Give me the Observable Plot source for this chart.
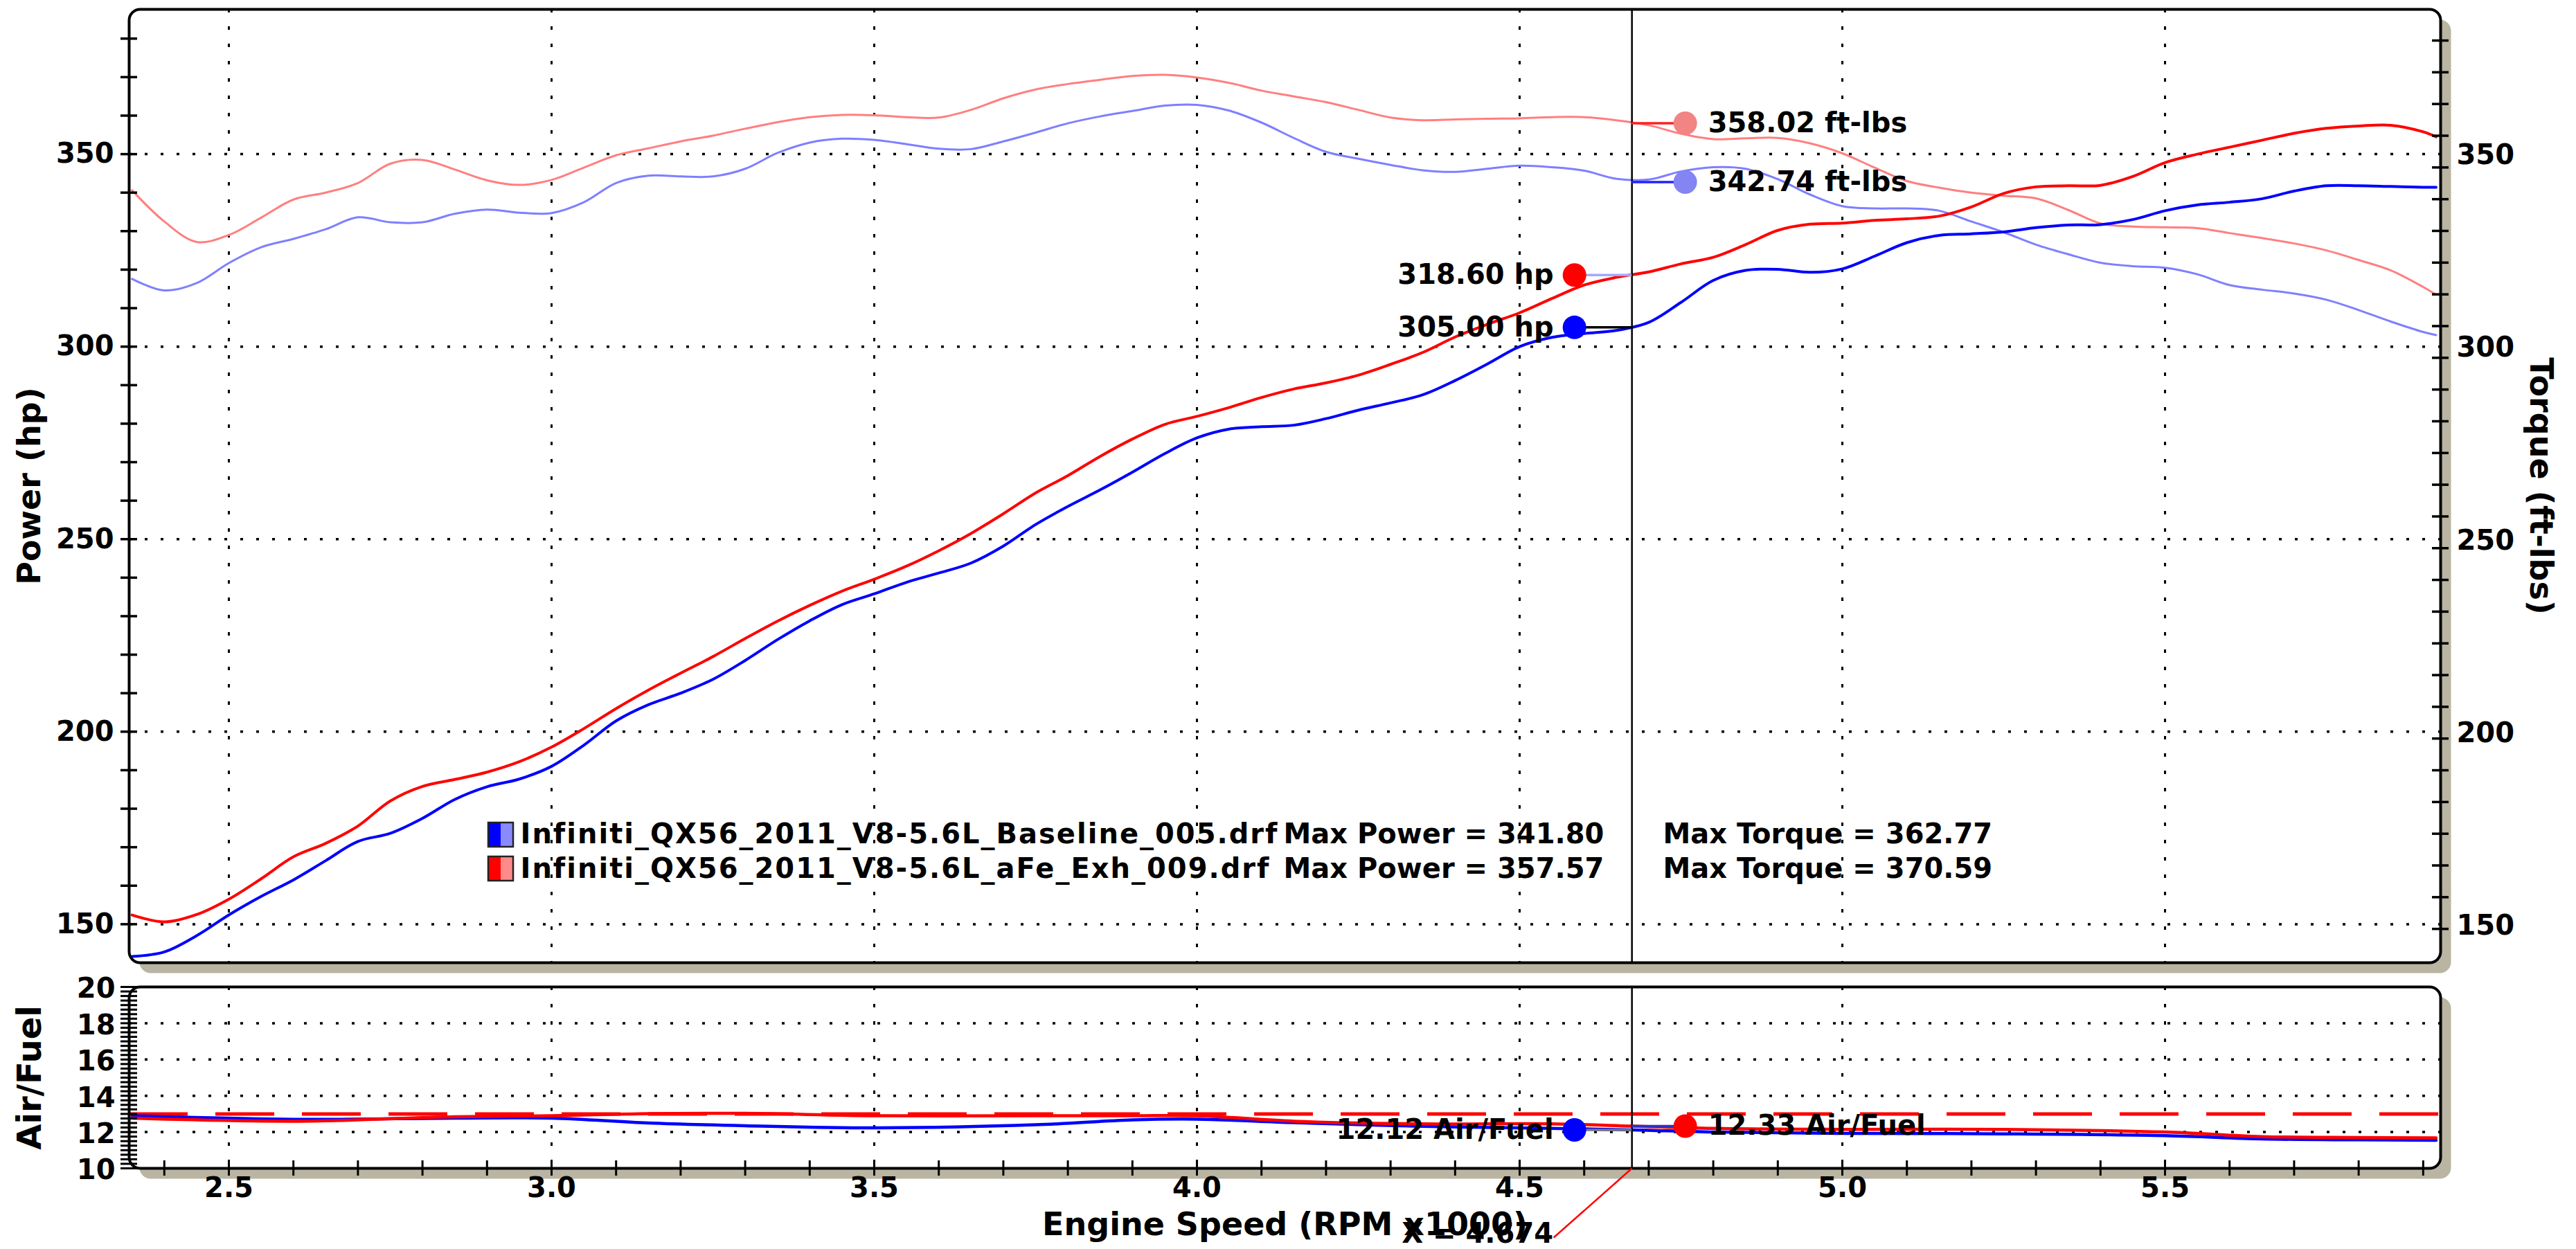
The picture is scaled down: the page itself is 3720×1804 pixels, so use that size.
<!DOCTYPE html>
<html>
<head>
<meta charset="utf-8">
<script src="https://cdn.jsdelivr.net/npm/d3@7"></script>
<script src="https://cdn.jsdelivr.net/npm/@observablehq/plot@0.6"></script>
<style>
  html, body { margin: 0; padding: 0; background: #ffffff; }
  #chart svg { display: block; }
</style>
</head>
<body>
<div id="chart"></div>
<script>
// ---------------- DATA ----------------
const rpm = [
  2.35, 2.40, 2.45, 2.50, 2.55, 2.60, 2.65, 2.70, 2.75, 2.80,
  2.85, 2.90, 2.95, 3.00, 3.05, 3.10, 3.15, 3.20, 3.25, 3.30,
  3.35, 3.40, 3.45, 3.50, 3.55, 3.60, 3.65, 3.70, 3.75, 3.80,
  3.85, 3.90, 3.95, 4.00, 4.05, 4.10, 4.15, 4.20, 4.25, 4.30,
  4.35, 4.40, 4.45, 4.50, 4.55, 4.60, 4.65, 4.70, 4.75, 4.80,
  4.85, 4.90, 4.95, 5.00, 5.05, 5.10, 5.15, 5.20, 5.25, 5.30,
  5.35, 5.40, 5.45, 5.50, 5.55, 5.60, 5.65, 5.70, 5.75, 5.80,
  5.85, 5.90, 5.92
];
const baselinePower = [
  141.6, 142.8, 147.0, 152.4, 157.2, 161.5, 166.5, 171.5, 173.6, 177.5,
  182.4, 185.7, 187.7, 191.0, 196.5, 202.8, 207.0, 210.0, 213.6, 218.5,
  223.9, 228.8, 233.0, 235.8, 238.8, 241.2, 243.8, 248.2, 253.8, 258.5,
  262.8, 267.4, 272.2, 276.3, 278.6, 279.2, 279.6, 281.3, 283.5, 285.4,
  287.5, 291.2, 295.5, 300.0, 302.4, 303.4, 304.2, 306.3, 311.5, 317.2,
  319.8, 320.1, 319.3, 320.2, 323.5, 327.0, 328.9, 329.3, 329.8, 330.9,
  331.6, 331.7, 333.0, 335.3, 336.8, 337.5, 338.4, 340.4, 341.8, 341.8,
  341.6, 341.4, 341.4
];
const aFePower = [
  152.4, 150.6, 152.5, 156.5, 161.8, 167.5, 171.0, 175.5, 182.0, 185.8,
  187.6, 189.5, 192.2, 196.0, 200.8, 206.0, 210.8, 215.2, 219.5, 224.2,
  228.7, 232.8, 236.5, 239.6, 243.0, 247.0, 251.5, 256.6, 262.0, 266.5,
  271.5, 276.0, 279.8, 281.9, 284.2, 286.8, 289.0, 290.6, 292.6, 295.4,
  298.5, 302.5, 305.8, 308.8, 312.5, 316.0, 318.0, 319.4, 321.5, 323.2,
  326.5, 330.2, 331.8, 332.1, 332.8, 333.2, 333.9, 336.3, 339.8, 341.5,
  341.8, 341.9, 344.2, 347.8, 350.0, 351.8, 353.6, 355.4, 356.7, 357.3,
  357.5, 355.8, 354.5
];
const baselineTorque = [
  317.6, 314.6, 316.5, 321.7, 325.8, 328.0, 330.5, 333.6, 332.3, 332.3,
  334.5, 335.6, 334.8, 334.7, 337.5, 342.5, 344.4, 344.2, 344.2, 346.2,
  350.3, 353.0, 354.0, 353.7, 352.6, 351.4, 351.3, 353.3, 355.6, 358.0,
  359.8, 361.2, 362.6, 362.8, 361.3, 358.2, 354.2, 350.6, 348.8, 347.2,
  345.8, 345.4, 346.2, 347.0, 346.6, 345.7, 343.6, 343.4, 345.5, 346.6,
  346.2, 343.5, 339.5, 336.5, 335.9, 335.9, 335.3, 332.5, 329.7, 326.5,
  324.0, 321.8, 320.9, 320.5, 318.8, 316.0, 314.8, 313.8, 312.2, 309.5,
  306.5, 303.8, 303.0
];
const aFeTorque = [
  340.6, 332.5, 327.2, 329.0, 333.5, 338.2, 340.0, 342.5, 347.5, 348.5,
  346.0, 343.2, 342.0, 343.3, 346.5, 349.7, 351.5, 353.3, 354.8, 356.6,
  358.3, 359.6, 360.2, 360.1, 359.6, 359.5, 361.5, 364.5, 366.8, 368.2,
  369.3, 370.3, 370.6, 369.9, 368.5, 366.5, 365.0, 363.5, 361.5, 359.5,
  358.8, 359.0, 359.2, 359.3, 359.6, 359.6, 358.8, 357.5, 355.3, 353.9,
  354.1, 354.2, 352.8, 350.2, 346.5, 343.0, 341.3, 340.0, 339.2, 338.5,
  335.5, 332.0, 331.2, 331.0, 330.8, 329.5, 328.2, 326.8, 325.0, 322.5,
  319.8, 315.5, 313.5
];
const afRpm = [2.35, 2.60, 2.85, 3.00, 3.15, 3.30, 3.50, 3.75, 3.90, 4.00, 4.15, 4.35, 4.55, 4.675, 4.80, 5.00, 5.25, 5.50, 5.65, 5.80, 5.92];
const baselineAF = [12.90, 12.70, 12.77, 12.77, 12.50, 12.35, 12.23, 12.40, 12.67, 12.71, 12.52, 12.32, 12.20, 12.12, 12.00, 11.93, 11.90, 11.80, 11.62, 11.57, 11.55];
const aFeAF = [12.77, 12.60, 12.84, 12.90, 13.02, 13.03, 12.90, 12.90, 12.90, 12.90, 12.60, 12.45, 12.45, 12.33, 12.20, 12.15, 12.15, 12.00, 11.75, 11.70, 11.68];
const targetAF = 13.0;

const runFiles = ["Infiniti_QX56_2011_V8-5.6L_Baseline_005.drf", "Infiniti_QX56_2011_V8-5.6L_aFe_Exh_009.drf"];
const runMaxPower = [341.80, 357.57];
const runMaxTorque = [362.77, 370.59];

const cursorRpm = 4.674;
const cursorHp = [318.60, 305.00];      // aFe, Baseline
const cursorTorque = [358.02, 342.74];  // aFe, Baseline
const cursorAF = [12.33, 12.12];        // aFe, Baseline

const xTickLabels = [2.5, 3.0, 3.5, 4.0, 4.5, 5.0, 5.5];
const powerTickLabels = [150, 200, 250, 300, 350];
const afTickLabels = [10, 12, 14, 16, 18, 20];
const afGrid = [12, 14, 16, 18];

// ---------------- LAYOUT / STYLE ----------------
const W = 3720, ML = 186, MR = 196;
const XD = [2.3455, 5.927];
const pxPerRpm = (W - ML - MR) / (XD[1] - XD[0]);
const H1 = 1410, MT1 = 13, MB1 = 20;
const H2 = 394, MT2 = 15, MB2 = 117;
const YD = [140, 387.6];
const AFD = [10, 20];
const pxPerAF = (H2 - MT2 - MB2) / (AFD[1] - AFD[0]);

const FONT = "font-family: 'DejaVu Sans', Verdana, sans-serif; font-weight: bold; background: transparent; overflow: visible;";
const SHADOW = "#b9b5a2";
const BLUE = "#0000ff", RED = "#ff0000", LBLUE = "#7f7fff", LRED = "#ff7f7f";
const runDark = [BLUE, RED], runLight = ["#8a8aff", "#ff8a8a"];

const toRows = (xs, ys) => xs.map((x, i) => ({rpm: x, v: ys[i]}));
const leftOff = -83 / pxPerRpm, rightOff = 77 / pxPerRpm;

function readout(value, side, dotFill, linkStroke, label) {
  const off = side === "left" ? leftOff : rightOff;
  const dotDx = side === "left" ? -83 : 77;
  return [
    Plot.ruleY([value], {y: d => d, x1: () => cursorRpm, x2: () => cursorRpm + off, stroke: linkStroke, strokeWidth: 3.5}),
    Plot.dot([value], {x: () => cursorRpm, y: d => d, dx: dotDx, r: 17, fill: dotFill, stroke: "none"}),
    Plot.text([value], {x: () => cursorRpm, y: d => d, dx: side === "left" ? -113 : 110,
      textAnchor: side === "left" ? "end" : "start", lineAnchor: "middle", text: label, fontSize: 40, fill: "black"})
  ];
}

const legendSwatches = (index, scales, values, dims) => {
  const g = d3.create("svg:g");
  runDark.forEach((c, i) => {
    const x = dims.marginLeft + 519, y = dims.marginTop + 1175 + 49 * i;
    g.append("rect").attr("x", x).attr("y", y).attr("width", 18).attr("height", 35).attr("fill", c);
    g.append("rect").attr("x", x + 18).attr("y", y).attr("width", 18).attr("height", 35).attr("fill", runLight[i]);
    g.append("rect").attr("x", x).attr("y", y).attr("width", 36).attr("height", 35)
      .attr("fill", "none").attr("stroke", "#222").attr("stroke-width", 2.5);
  });
  return g.node();
};

// ---------------- TOP PANEL ----------------
const topPlot = Plot.plot({
  width: W, height: H1, marginLeft: ML, marginRight: MR, marginTop: MT1, marginBottom: MB1,
  x: {domain: XD, axis: null},
  y: {domain: YD, axis: null},
  style: FONT,
  marks: [
    Plot.frame({fill: SHADOW, stroke: "none", rx: 16, dx: 15, dy: 15}),
    Plot.frame({fill: "white", stroke: "none", rx: 16}),
    Plot.ruleY(powerTickLabels, {y: d => d, stroke: "black", strokeWidth: 3.5, strokeDasharray: "4 19"}),
    Plot.ruleX(xTickLabels, {x: d => d, stroke: "black", strokeWidth: 3, strokeDasharray: "5 20"}),
    Plot.line(toRows(rpm, baselineTorque), {x: "rpm", y: "v", stroke: LBLUE, strokeWidth: 3, curve: "catmull-rom"}),
    Plot.line(toRows(rpm, aFeTorque), {x: "rpm", y: "v", stroke: LRED, strokeWidth: 3, curve: "catmull-rom"}),
    Plot.line(toRows(rpm, baselinePower), {x: "rpm", y: "v", stroke: BLUE, strokeWidth: 4, curve: "catmull-rom"}),
    Plot.line(toRows(rpm, aFePower), {x: "rpm", y: "v", stroke: RED, strokeWidth: 4, curve: "catmull-rom"}),
    Plot.ruleX([cursorRpm], {x: d => d, stroke: "black", strokeWidth: 2.5}),
    ...readout(cursorTorque[0], "right", "#f28484", "#ff2020", d => `${d.toFixed(2)} ft-lbs`),
    ...readout(cursorTorque[1], "right", "#8484f2", "#2020ff", d => `${d.toFixed(2)} ft-lbs`),
    ...readout(cursorHp[0], "left", RED, "#a0a8ff", d => `${d.toFixed(2)} hp`),
    ...readout(cursorHp[1], "left", BLUE, "black", d => `${d.toFixed(2)} hp`),
    legendSwatches,
    ...runFiles.map((f, i) => Plot.text([f], {text: d => d,
      frameAnchor: "top-left", dx: 565, dy: 1192 + 50 * i, textAnchor: "start", lineAnchor: "middle", fontSize: 40})),
    ...runFiles.map((f, i) => Plot.text([runMaxPower[i]], {text: d => `Max Power = ${d.toFixed(2)}`,
      frameAnchor: "top-left", dx: 1667, dy: 1192 + 50 * i, textAnchor: "start", lineAnchor: "middle", fontSize: 40})),
    ...runFiles.map((f, i) => Plot.text([runMaxTorque[i]], {text: d => `Max Torque = ${d.toFixed(2)}`,
      frameAnchor: "top-left", dx: 2215, dy: 1192 + 50 * i, textAnchor: "start", lineAnchor: "middle", fontSize: 40})),
    Plot.frame({stroke: "black", strokeWidth: 4, rx: 16}),
    // left ticks (every 10) and right ticks
    Plot.ruleY(d3.range(150, 381, 10), {y: d => d, x1: () => XD[0], x2: () => XD[0], insetLeft: -12, insetRight: -12, stroke: "black", strokeWidth: 3.5}),
    Plot.ruleY(d3.range(379.5, 141, -8.24), {y: d => d, x1: () => XD[1], x2: () => XD[1], insetLeft: -12, insetRight: -12, stroke: "black", strokeWidth: 3.5}),
    Plot.text(powerTickLabels, {x: () => XD[0], y: d => d, dx: -22, textAnchor: "end", text: d => String(d), fontSize: 40}),
    Plot.text(powerTickLabels, {x: () => XD[1], y: d => d, dx: 23, dy: 2, textAnchor: "start", text: d => String(d), fontSize: 40}),
    Plot.text(["Power (hp)"], {text: d => d, frameAnchor: "left", textAnchor: "middle", lineAnchor: "middle", dx: -143, rotate: -90, fontSize: 46}),
    Plot.text(["Torque (ft-lbs)"], {text: d => d, frameAnchor: "right", textAnchor: "middle", lineAnchor: "middle", dx: 144, rotate: 90, fontSize: 46})
  ]
});

// ---------------- BOTTOM (AIR/FUEL) PANEL ----------------
const botPlot = Plot.plot({
  width: W, height: H2, marginLeft: ML, marginRight: MR, marginTop: MT2, marginBottom: MB2,
  x: {domain: XD, axis: null},
  y: {domain: AFD, axis: null},
  style: FONT,
  marks: [
    Plot.frame({fill: SHADOW, stroke: "none", rx: 16, dx: 15, dy: 15}),
    Plot.frame({fill: "white", stroke: "none", rx: 16}),
    Plot.ruleY(afGrid, {y: d => d, stroke: "black", strokeWidth: 3.5, strokeDasharray: "4 19"}),
    Plot.ruleX(xTickLabels, {x: d => d, stroke: "black", strokeWidth: 3, strokeDasharray: "5 20"}),
    Plot.ruleY([targetAF], {y: d => d, stroke: RED, strokeWidth: 5, strokeDasharray: "85 40"}),
    Plot.line(toRows(afRpm, baselineAF), {x: "rpm", y: "v", stroke: BLUE, strokeWidth: 4.5, curve: "catmull-rom"}),
    Plot.line(toRows(afRpm, aFeAF), {x: "rpm", y: "v", stroke: RED, strokeWidth: 4.5, curve: "catmull-rom"}),
    Plot.ruleX([cursorRpm], {x: d => d, stroke: "black", strokeWidth: 2.5}),
    ...readout(cursorAF[1], "left", BLUE, "#777777", d => `${d.toFixed(2)} Air/Fuel`),
    ...readout(cursorAF[0], "right", RED, "#3030c0", d => `${d.toFixed(2)} Air/Fuel`),
    Plot.frame({stroke: "black", strokeWidth: 4, rx: 16}),
    Plot.ruleY(d3.range(10, 20.01, 0.25), {y: d => d, x1: () => XD[0], x2: () => XD[0], insetLeft: -12, insetRight: -12, stroke: "black", strokeWidth: 3}),
    Plot.ruleX(d3.range(2.4, 5.95, 0.1), {x: d => d, y1: () => AFD[0], y2: () => AFD[0], insetTop: -11, insetBottom: -11, stroke: "black", strokeWidth: 3}),
    Plot.text(afTickLabels, {x: () => XD[0], y: d => d, dx: -20, dy: 3, textAnchor: "end", text: d => String(d), fontSize: 40}),
    Plot.text(xTickLabels, {x: d => d, frameAnchor: "bottom", lineAnchor: "middle", dy: 29, text: d => d.toFixed(1), fontSize: 40}),
    Plot.text(["Air/Fuel"], {text: d => d, frameAnchor: "left", textAnchor: "middle", lineAnchor: "middle", dx: -143, rotate: -90, fontSize: 48}),
    Plot.text(["Engine Speed (RPM x1000)"], {text: d => d, frameAnchor: "bottom", lineAnchor: "middle", dy: 82, fontSize: 46}),
    Plot.link([cursorRpm], {x1: d => d, y1: () => AFD[0], x2: d => d - 113 / pxPerRpm, y2: () => AFD[0] - 100 / pxPerAF, stroke: RED, strokeWidth: 2.5}),
    Plot.text([cursorRpm], {x: d => d, frameAnchor: "bottom", lineAnchor: "middle", dx: -223, dy: 95, text: d => `X = ${d.toFixed(3)}`, fontSize: 40})
  ]
});

// widen the run file names slightly, as in the reference lettering
d3.select(topPlot).selectAll("text")
  .filter(function() { return runFiles.includes(this.textContent); })
  .attr("letter-spacing", 2.0);

const chart = document.getElementById("chart");
chart.appendChild(topPlot);
chart.appendChild(botPlot);
</script>
</body>
</html>
